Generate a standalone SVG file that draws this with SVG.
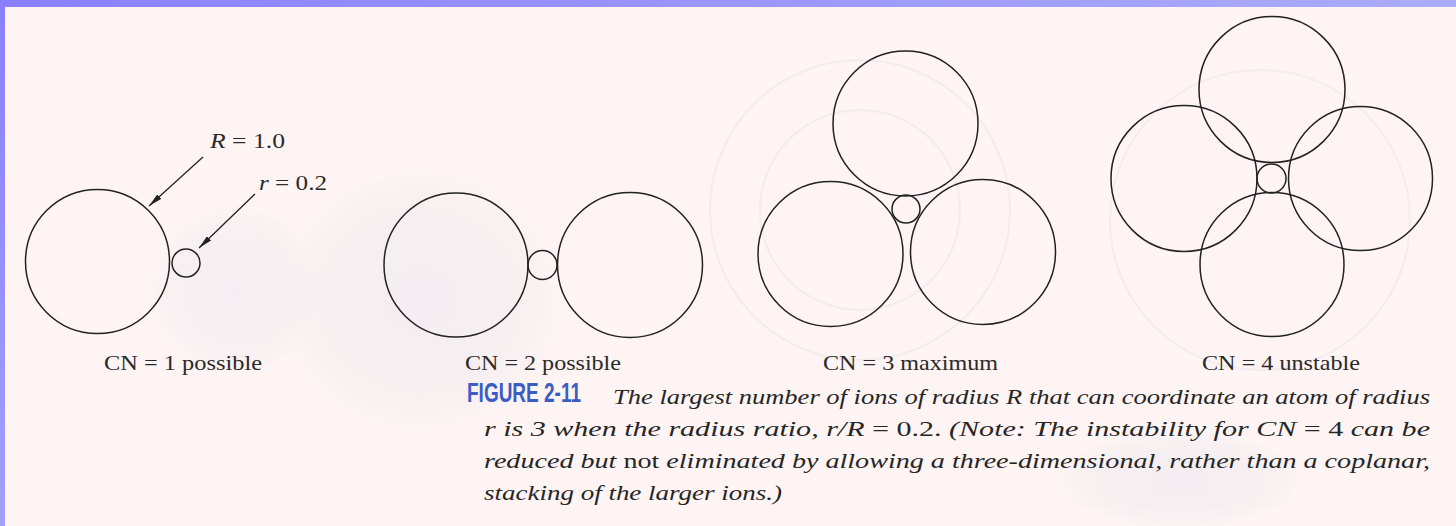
<svg xmlns="http://www.w3.org/2000/svg" width="1456" height="526" viewBox="0 0 1456 526">
  <defs>
    <linearGradient id="topband" x1="0" y1="0" x2="1" y2="0">
      <stop offset="0" stop-color="#8a80ff"/>
      <stop offset="1" stop-color="#acacff"/>
    </linearGradient>
    <linearGradient id="leftband" x1="0" y1="0" x2="0" y2="1">
      <stop offset="0" stop-color="#8a80ff"/>
      <stop offset="1" stop-color="#a3a0ff"/>
    </linearGradient>
    <radialGradient id="blob" cx="0.5" cy="0.5" r="0.5">
      <stop offset="0" stop-color="#ebe8f0" stop-opacity="0.85"/>
      <stop offset="0.8" stop-color="#eee9f0" stop-opacity="0.55"/>
      <stop offset="1" stop-color="#f3eef2" stop-opacity="0"/>
    </radialGradient>
    <marker id="arrow" viewBox="0 0 14 6" refX="14" refY="3" markerWidth="14" markerHeight="6" markerUnits="userSpaceOnUse" orient="auto">
      <path d="M0,0 L14,3 L0,6 Z" fill="#222"/>
    </marker>
    <style>
      .ion { fill: none; stroke: #222; stroke-width: 1.5; }
      .lbl { font-family: "Liberation Serif", "Times New Roman", serif; font-size: 21px; fill: #2a2a2a; }
      .math { font-family: "Liberation Serif", "Times New Roman", serif; font-size: 21px; fill: #2a2a2a; }
      .cap { font-family: "Liberation Serif", "Times New Roman", serif; font-size: 21px; font-style: italic; fill: #262626; }
      .up { font-style: normal; }
      .fig { font-family: "Liberation Sans", "Arial", sans-serif; font-size: 28px; font-weight: bold; fill: #3b5cc4; }
      .ghost { fill: none; stroke: #eee8ec; stroke-width: 2; }
      .conn { stroke: #222; stroke-width: 1.3; fill: none; }
    </style>
  </defs>

  <!-- page -->
  <rect x="0" y="0" width="1456" height="526" fill="#fdf4f3"/>
  <!-- faint show-through of the facing page -->
  <g id="showthrough" opacity="0.6">
    <ellipse cx="235" cy="290" rx="85" ry="85" fill="url(#blob)"/>
    <ellipse cx="420" cy="300" rx="140" ry="130" fill="url(#blob)"/>
    <circle class="ghost" cx="860" cy="210" r="150"/>
    <circle class="ghost" cx="860" cy="210" r="100"/>
    <circle class="ghost" cx="1260" cy="220" r="150"/>
    <ellipse cx="1180" cy="480" rx="120" ry="50" fill="url(#blob)"/>
  </g>
  <rect x="0" y="0" width="1456" height="7" fill="url(#topband)"/>
  <rect x="0" y="0" width="5" height="526" fill="url(#leftband)"/>

  <!-- CN = 1 -->
  <g id="cn1">
    <circle class="ion" cx="97.5" cy="261.5" r="72"/>
    <circle class="ion" cx="186" cy="263" r="14"/>
    <text class="lbl" x="104" y="370" textLength="158" lengthAdjust="spacingAndGlyphs">CN = 1 possible</text>
  </g>
  <g id="label-R">
    <text class="math" x="210" y="148" textLength="75" lengthAdjust="spacingAndGlyphs"><tspan font-style="italic">R</tspan> = 1.0</text>
  </g>
  <g id="label-r">
    <text class="math" x="259" y="190" textLength="68" lengthAdjust="spacingAndGlyphs"><tspan font-style="italic">r</tspan> = 0.2</text>
  </g>

  <!-- CN = 2 -->
  <g id="cn2">
    <circle class="ion" cx="456" cy="265" r="72"/>
    <circle class="ion" cx="542.5" cy="265" r="14.5"/>
    <circle class="ion" cx="630" cy="265" r="72.5"/>
    <text class="lbl" x="465" y="370" textLength="156" lengthAdjust="spacingAndGlyphs">CN = 2 possible</text>
  </g>

  <!-- CN = 3 -->
  <g id="cn3">
    <circle class="ion" cx="905.5" cy="123.5" r="72.5"/>
    <circle class="ion" cx="906" cy="209" r="14"/>
    <circle class="ion" cx="830.5" cy="254" r="72.5"/>
    <circle class="ion" cx="983" cy="252" r="72.5"/>
    <text class="lbl" x="823" y="370" textLength="175" lengthAdjust="spacingAndGlyphs">CN = 3 maximum</text>
  </g>

  <!-- CN = 4 -->
  <g id="cn4">
    <circle class="ion" cx="1272" cy="89.5" r="73"/>
    <circle class="ion" cx="1184" cy="178.5" r="73"/>
    <circle class="ion" cx="1360.5" cy="178.5" r="72"/>
    <circle class="ion" cx="1272" cy="264.5" r="72"/>
    <circle class="ion" cx="1271.5" cy="178.5" r="14.5"/>
    <text class="lbl" x="1202" y="370" textLength="158" lengthAdjust="spacingAndGlyphs">CN = 4 unstable</text>
  </g>

  <!-- connectors (leader arrows) -->
  <g id="connectors">
    <line class="conn" x1="203" y1="157" x2="149" y2="206" marker-end="url(#arrow)"/>
    <line class="conn" x1="255" y1="194" x2="199" y2="248" marker-end="url(#arrow)"/>
  </g>

  <!-- caption -->
  <g id="caption">
    <text class="fig" x="467" y="402" textLength="114" lengthAdjust="spacingAndGlyphs">FIGURE 2-11</text>
    <text class="cap" x="613" y="404" textLength="817" lengthAdjust="spacingAndGlyphs">The largest number of ions of radius R that can coordinate an atom of radius</text>
    <text class="cap" x="484" y="436" textLength="946" lengthAdjust="spacingAndGlyphs">r is 3 when the radius ratio, r/R <tspan class="up">= 0.2.</tspan> (Note: The instability for CN <tspan class="up">= 4</tspan> can be</text>
    <text class="cap" x="484" y="468" textLength="946" lengthAdjust="spacingAndGlyphs">reduced but <tspan class="up">not</tspan> eliminated by allowing a three-dimensional, rather than a coplanar,</text>
    <text class="cap" x="484" y="500" textLength="298" lengthAdjust="spacingAndGlyphs">stacking of the larger ions.)</text>
  </g>
</svg>
